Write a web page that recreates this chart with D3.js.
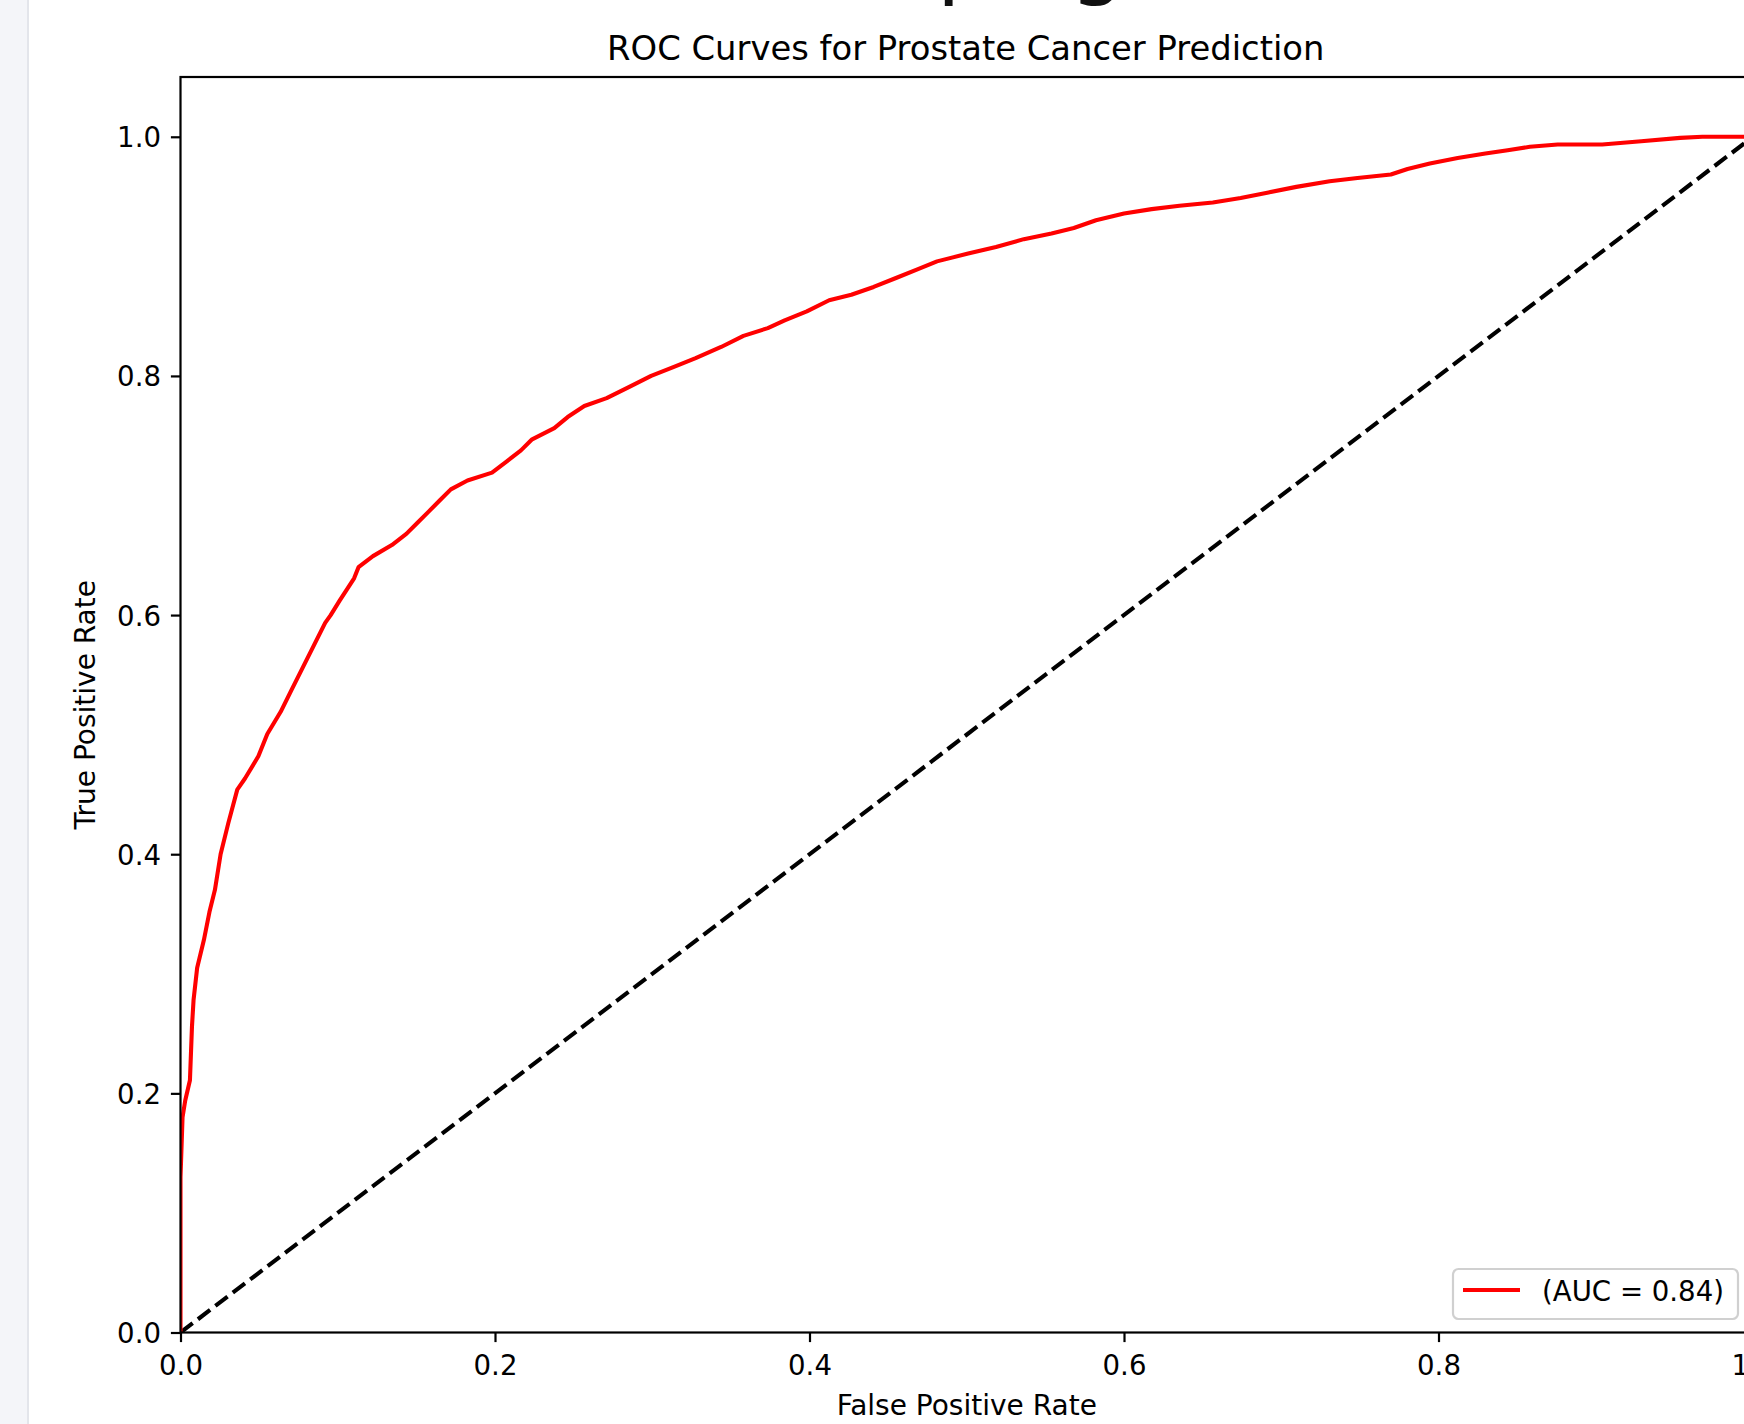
<!DOCTYPE html>
<html>
<head>
<meta charset="utf-8">
<script src="https://cdn.jsdelivr.net/npm/d3@7"></script>
<style>
  html, body { margin: 0; padding: 0; background: #ffffff; }
  svg { display: block; font-family: "DejaVu Sans", sans-serif; }
</style>
</head>
<body>
<svg id="chart" width="1744" height="1424"></svg>
<script>
// ---- data ----
const chartTitle = "ROC Curves for Prostate Cancer Prediction";
const headingText = "ping";
const xLabel = "False Positive Rate";
const yLabel = "True Positive Rate";
const legendLabel = "(AUC = 0.84)";
const xTicks = [0.0, 0.2, 0.4, 0.6, 0.8, 1.0];
const yTicks = [0.0, 0.2, 0.4, 0.6, 0.8, 1.0];

const fpr = [0, 0, 0.0013, 0.003, 0.006, 0.0073, 0.0083, 0.0106, 0.0149, 0.0184, 0.0219, 0.0255,
  0.0304, 0.0361, 0.041, 0.0495, 0.0552, 0.0637, 0.0707, 0.0778, 0.0849, 0.092, 0.0955, 0.1012,
  0.1104, 0.1132, 0.1224, 0.1344, 0.1436, 0.1507, 0.1578, 0.1648, 0.1719, 0.1825, 0.1981, 0.2073,
  0.2165, 0.2236, 0.2377, 0.2462, 0.2568, 0.271, 0.2851, 0.2993, 0.3134, 0.3276, 0.3438, 0.358,
  0.3735, 0.3842, 0.3983, 0.4125, 0.4266, 0.4408, 0.455, 0.469, 0.4811, 0.5009, 0.5186, 0.5363,
  0.5539, 0.5681, 0.5822, 0.6, 0.6176, 0.6353, 0.6565, 0.6742, 0.6919, 0.7096, 0.7308, 0.7485,
  0.7697, 0.7803, 0.7945, 0.8122, 0.8298, 0.844, 0.8581, 0.8758, 0.9041, 0.9289, 0.9537, 0.9678, 1.0];
const tpr = [0, 0.13, 0.18, 0.194, 0.211, 0.256, 0.278, 0.3051, 0.3284, 0.3516, 0.3702, 0.4,
  0.426, 0.454, 0.4633, 0.4819, 0.5005, 0.5191, 0.5377, 0.5563, 0.5749, 0.5935, 0.6, 0.6121,
  0.6307, 0.64, 0.6493, 0.6586, 0.6679, 0.6772, 0.6865, 0.6958, 0.7051, 0.7126, 0.7191, 0.7284,
  0.7377, 0.747, 0.7563, 0.7656, 0.7749, 0.7814, 0.7907, 0.8, 0.8074, 0.8149, 0.8242, 0.8335,
  0.84, 0.8465, 0.854, 0.8633, 0.8679, 0.8744, 0.8819, 0.8893, 0.8958, 0.9023, 0.9079, 0.9144,
  0.9191, 0.9237, 0.9302, 0.9358, 0.9395, 0.9423, 0.9451, 0.9488, 0.9535, 0.9581, 0.9628, 0.9656,
  0.9684, 0.973, 0.9777, 0.9823, 0.986, 0.9888, 0.9916, 0.9935, 0.9935, 0.9963, 0.9991, 1.0, 1.0];
const chanceX = [0, 1];
const chanceY = [0, 1];

// ---- layout ----
const svg = d3.select("#chart");
const L = 180.5, T = 77, R = 1753, B = 1332.5;
const x = d3.scaleLinear().domain([0, 1]).range([L, R]);
const y = d3.scaleLinear().domain([0, 1.05]).range([B, T]);
const FS = 27.6;

// page side strip
svg.append("rect").attr("x", 0).attr("y", 0).attr("width", 28).attr("height", 1424).attr("fill", "#f4f5f9");
svg.append("rect").attr("x", 27).attr("y", 0).attr("width", 2).attr("height", 1424).attr("fill", "#e3e5eb");

// cut-off page heading at the very top
svg.append("text").attr("x", 937).attr("y", -12)
  .attr("font-size", 86).attr("fill", "#111").text(headingText);

// plot background
svg.append("rect").attr("x", L).attr("y", T).attr("width", R - L).attr("height", B - T).attr("fill", "#fff");

svg.append("defs").append("clipPath").attr("id", "clip")
  .append("rect").attr("x", L).attr("y", T).attr("width", R - L).attr("height", B - T);

const plot = svg.append("g").attr("clip-path", "url(#clip)");

// chance line
plot.append("path")
  .datum(chanceX.map((d, i) => [d, chanceY[i]]))
  .attr("d", d3.line().x(d => x(d[0])).y(d => y(d[1])))
  .attr("fill", "none").attr("stroke", "#000").attr("stroke-width", 4.1)
  .attr("stroke-dasharray", "15.3,6.6");

// ROC curve
plot.append("path")
  .datum(fpr.map((d, i) => [d, tpr[i]]))
  .attr("d", d3.line().x(d => x(d[0])).y(d => y(d[1])))
  .attr("fill", "none").attr("stroke", "#ff0000").attr("stroke-width", 4.1)
  .attr("stroke-linejoin", "round");

// axes
const fmt = d3.format(".1f");
const gx = svg.append("g").attr("transform", `translate(0,${B})`)
  .call(d3.axisBottom(x).tickValues(xTicks).tickFormat(fmt).tickSize(9.6).tickSizeOuter(0));
gx.select(".domain").remove();
gx.selectAll(".tick line").attr("stroke", "#000").attr("stroke-width", 2.2);
gx.selectAll(".tick text").attr("y", 42.5).attr("dy", 0)
  .attr("font-size", FS).attr("font-family", "DejaVu Sans").attr("fill", "#000");

const gy = svg.append("g").attr("transform", `translate(${L},0)`)
  .call(d3.axisLeft(y).tickValues(yTicks).tickFormat(fmt).tickSize(9.6).tickSizeOuter(0));
gy.select(".domain").remove();
gy.selectAll(".tick line").attr("stroke", "#000").attr("stroke-width", 2.2);
gy.selectAll(".tick text").attr("x", -19.5).attr("dy", "0.36em")
  .attr("font-size", FS).attr("font-family", "DejaVu Sans").attr("fill", "#000");

// frame (spines)
svg.append("rect").attr("x", L).attr("y", T).attr("width", R - L).attr("height", B - T)
  .attr("fill", "none").attr("stroke", "#000").attr("stroke-width", 2.2);

// title and axis labels
svg.append("text").attr("x", (L + R) / 2 - 1).attr("y", 60).attr("text-anchor", "middle")
  .attr("font-size", 33.8).attr("fill", "#000").text(chartTitle);
svg.append("text").attr("x", (L + R) / 2).attr("y", 1415).attr("text-anchor", "middle")
  .attr("font-size", 28).attr("fill", "#000").text(xLabel);
svg.append("text").attr("transform", `translate(95,${(T + B) / 2}) rotate(-90)`)
  .attr("text-anchor", "middle").attr("font-size", 28).attr("fill", "#000").text(yLabel);

// legend
const lg = svg.append("g");
lg.append("rect").attr("x", 1453).attr("y", 1269).attr("width", 285).attr("height", 50)
  .attr("rx", 5.5).attr("ry", 5.5).attr("fill", "#fff").attr("fill-opacity", 0.8)
  .attr("stroke", "#d0d0d0").attr("stroke-width", 2.2);
lg.append("line").attr("x1", 1463).attr("x2", 1520).attr("y1", 1290).attr("y2", 1290)
  .attr("stroke", "#ff0000").attr("stroke-width", 4.1);
lg.append("text").attr("x", 1542).attr("y", 1301).attr("font-size", FS).attr("fill", "#000")
  .text(legendLabel);
</script>
</body>
</html>
